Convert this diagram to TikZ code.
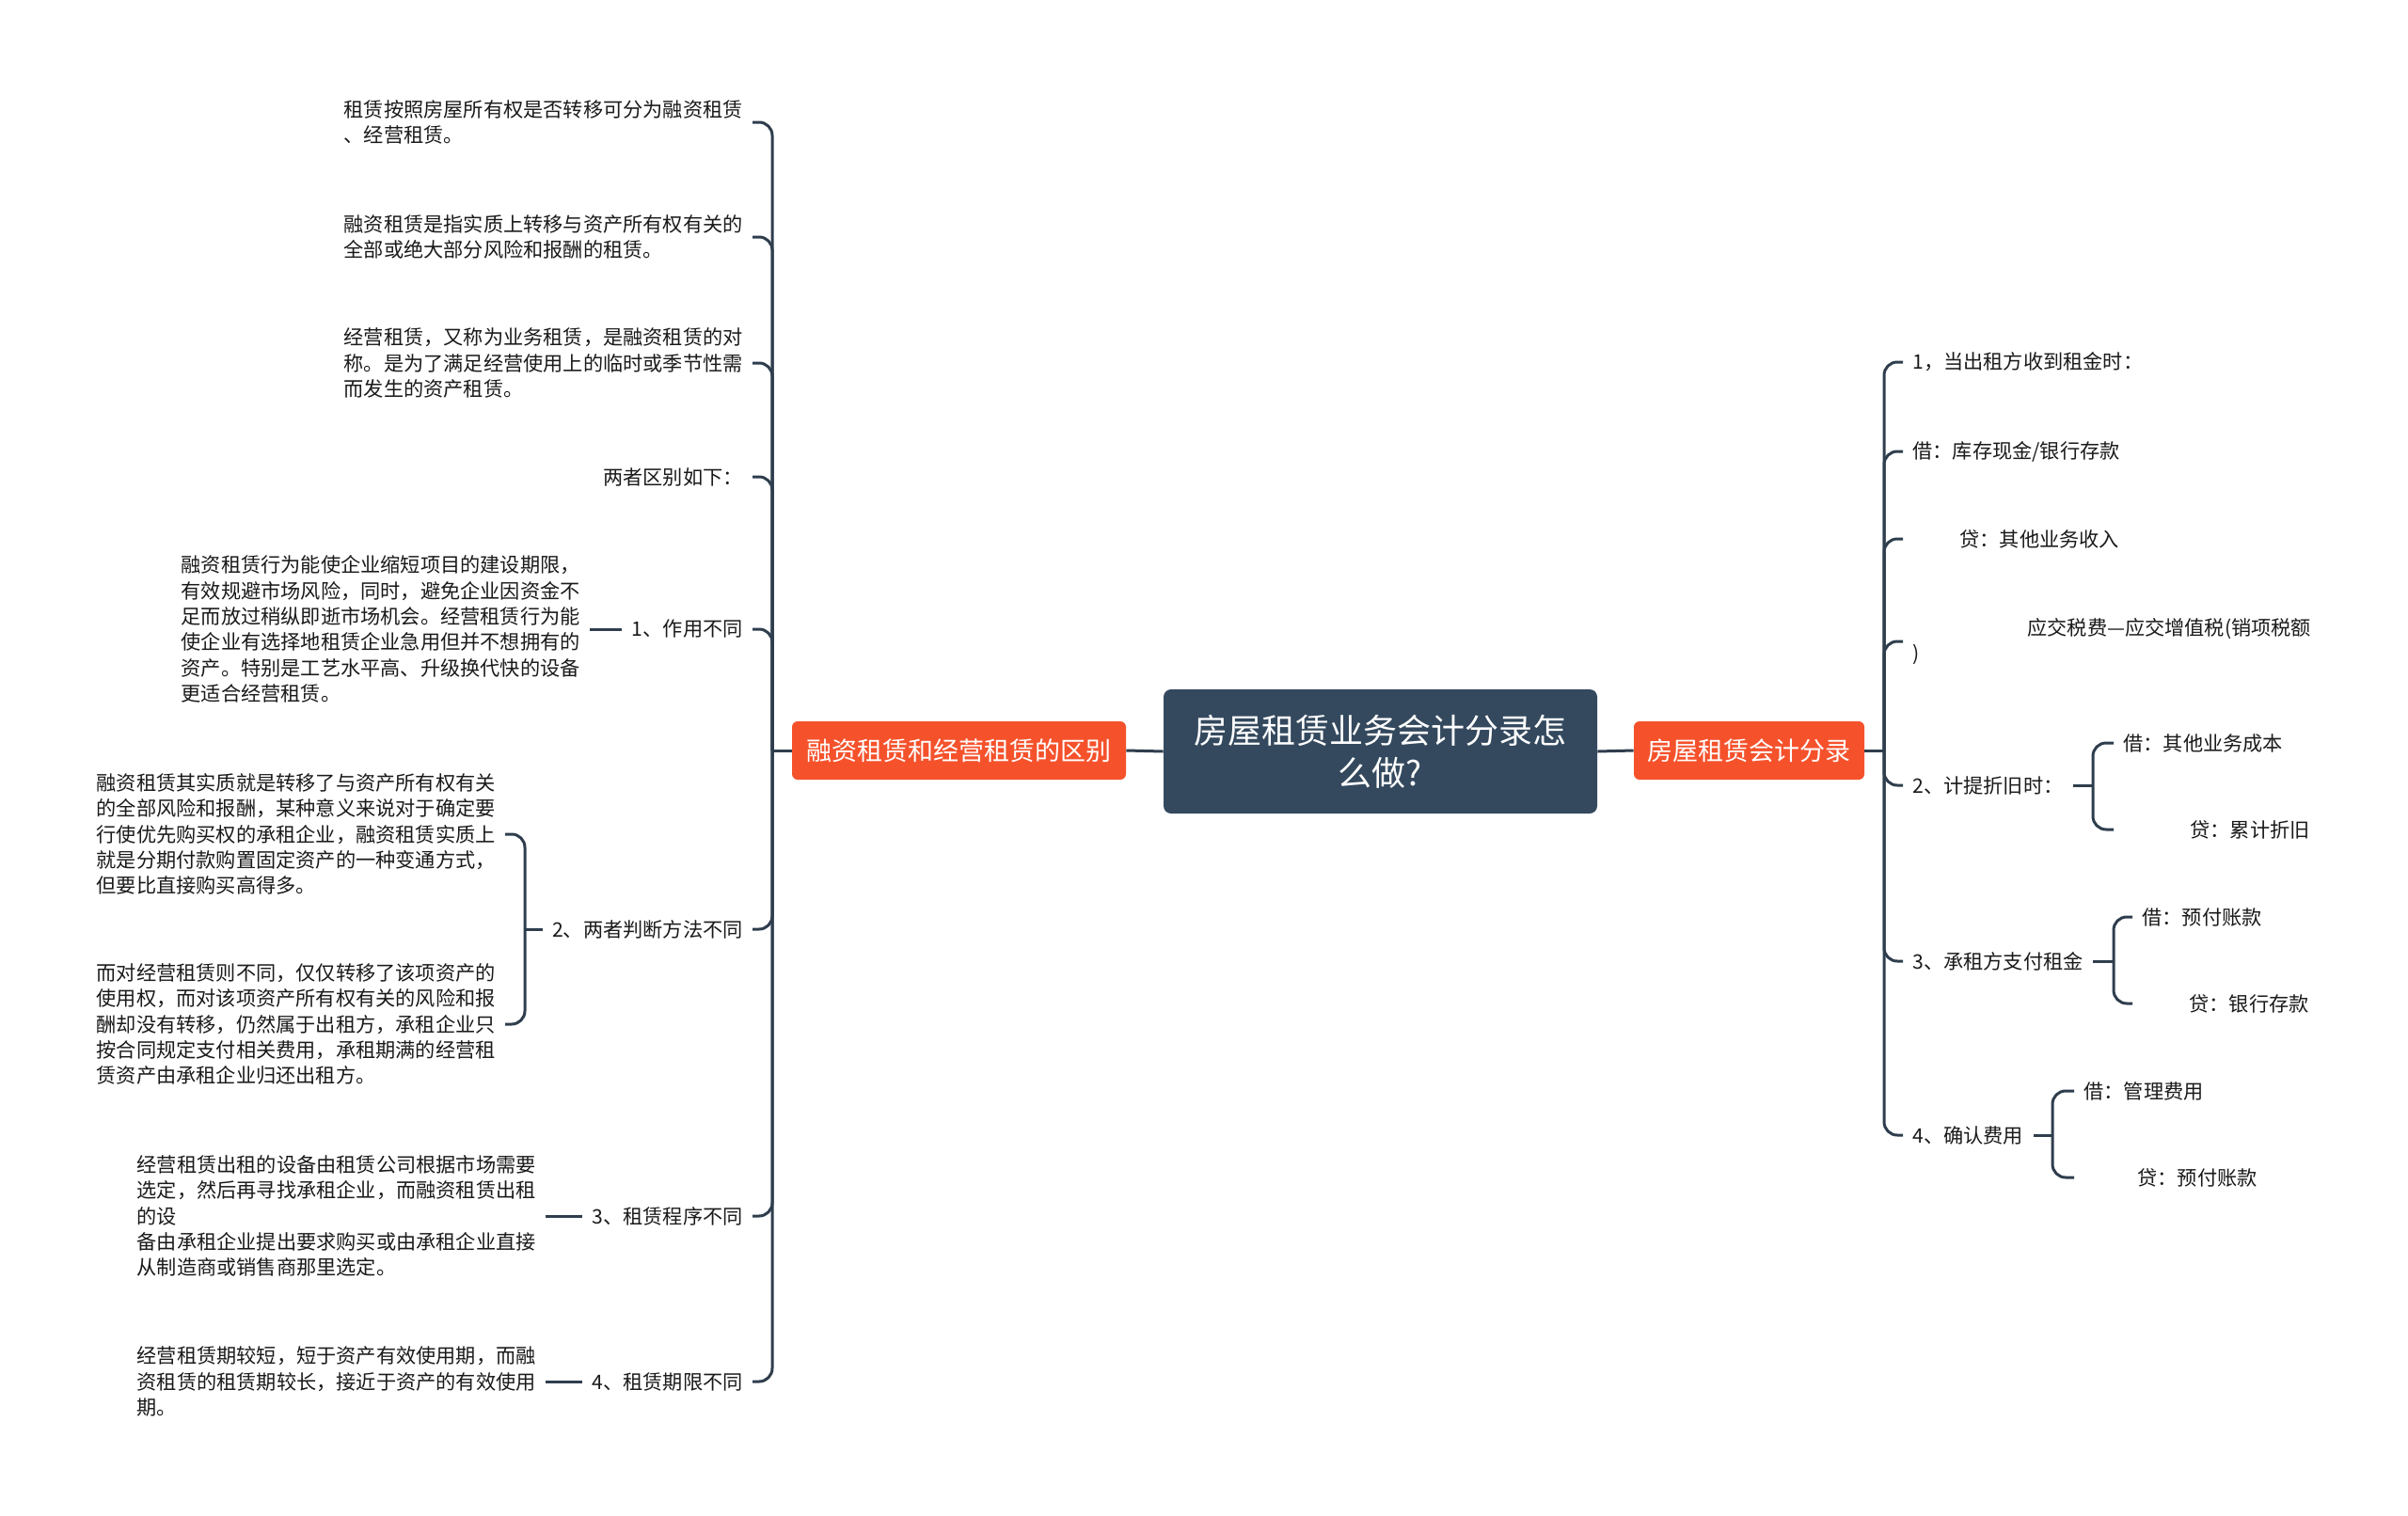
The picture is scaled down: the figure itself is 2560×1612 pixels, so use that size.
\documentclass[tikz,border=0pt]{standalone}
\usepackage{fontspec}
\setmainfont{Noto Sans CJK SC}
\definecolor{slate}{HTML}{34495E}
\definecolor{lnc}{HTML}{2F3E4E}
\definecolor{org}{HTML}{F5522C}
\definecolor{txt}{HTML}{1A1A1A}
\begin{document}
\begin{tikzpicture}[x=0.5pt,y=-0.5pt,
  conn/.style={draw=lnc,line width=1.5pt,rounded corners=7pt},
  leaf/.style={font=\fontsize{10.6pt}{13.7pt}\selectfont,text=txt,align=left,inner xsep=5pt,inner ysep=0pt},
  mainb/.style={fill=org,text=white,rounded corners=3pt,font=\fontsize{13.5pt}{16pt}\selectfont,minimum height=31pt,inner sep=0pt},
]
\fill[white] (0,0) rectangle (2560,1612);
\useasboundingbox (0,0) rectangle (2560,1612);

\node[fill=slate,text=white,rounded corners=4pt,minimum width=230.5pt,minimum height=66pt,inner sep=0pt,align=center,font=\fontsize{18pt}{22.5pt}\selectfont] (root) at (1467.5,799) {房屋租赁业务会计分录怎\\么做?};
\node[mainb,minimum width=177.5pt] (L) at (1019.5,798) {融资租赁和经营租赁的区别};
\node[mainb,minimum width=122.5pt] (R) at (1859.5,798) {房屋租赁会计分录};

\coordinate (ls) at (821,798);
\coordinate (rs) at (2003,798);

% left side
\node[leaf,anchor=east] (t1) at (800,130) {租赁按照房屋所有权是否转移可分为融资租赁\\、经营租赁。};
\node[leaf,anchor=east] (t2) at (800,252) {融资租赁是指实质上转移与资产所有权有关的\\全部或绝大部分风险和报酬的租赁。};
\node[leaf,anchor=east] (t3) at (800,386) {经营租赁，又称为业务租赁，是融资租赁的对\\称。是为了满足经营使用上的临时或季节性需\\而发生的资产租赁。};
\node[leaf,anchor=east] (t4) at (800,507) {两者区别如下：};
\node[leaf,anchor=east] (a1) at (800,669) {1、作用不同};
\node[leaf,anchor=east] (d1) at (627,669) {融资租赁行为能使企业缩短项目的建设期限，\\有效规避市场风险，同时，避免企业因资金不\\足而放过稍纵即逝市场机会。经营租赁行为能\\使企业有选择地租赁企业急用但并不想拥有的\\资产。特别是工艺水平高、升级换代快的设备\\更适合经营租赁。};
\node[leaf,anchor=east] (a2) at (800,988) {2、两者判断方法不同};
\node[leaf,anchor=east] (b1) at (537,887) {融资租赁其实质就是转移了与资产所有权有关\\的全部风险和报酬，某种意义来说对于确定要\\行使优先购买权的承租企业，融资租赁实质上\\就是分期付款购置固定资产的一种变通方式，\\但要比直接购买高得多。};
\node[leaf,anchor=east] (b2) at (537,1089) {而对经营租赁则不同，仅仅转移了该项资产的\\使用权，而对该项资产所有权有关的风险和报\\酬却没有转移，仍然属于出租方，承租企业只\\按合同规定支付相关费用，承租期满的经营租\\赁资产由承租企业归还出租方。};
\node[leaf,anchor=east] (a3) at (800,1293) {3、租赁程序不同};
\node[leaf,anchor=east] (d3) at (580,1293) {经营租赁出租的设备由租赁公司根据市场需要\\选定，然后再寻找承租企业，而融资租赁出租\\的设\\备由承租企业提出要求购买或由承租企业直接\\从制造商或销售商那里选定。};
\node[leaf,anchor=east] (a4) at (800,1469) {4、租赁期限不同};
\node[leaf,anchor=east] (d4) at (580,1469) {经营租赁期较短，短于资产有效使用期，而融\\资租赁的租赁期较长，接近于资产的有效使用\\期。};

% right side
\node[leaf,anchor=west] (r1) at (2023,385) {1，当出租方收到租金时：};
\node[leaf,anchor=west] (r2) at (2023,480) {借：库存现金/银行存款};
\node[leaf,anchor=west] (r3) at (2023,573) {\hspace*{25pt}贷：其他业务收入};
\node[leaf,anchor=west] (r4) at (2023,682) {\hspace*{61pt}应交税费—应交增值税(销项税额\\)};
\node[leaf,anchor=west] (r5) at (2023,835) {2、计提折旧时：};
\node[leaf,anchor=west] (r6) at (2023,1022) {3、承租方支付租金};
\node[leaf,anchor=west] (r7) at (2023,1207) {4、确认费用};
\node[leaf,anchor=west] (c51) at (2247,790) {借：其他业务成本};
\node[leaf,anchor=west] (c52) at (2247,882) {\hspace*{35.5pt}贷：累计折旧};
\node[leaf,anchor=west] (c61) at (2267,975) {借：预付账款};
\node[leaf,anchor=west] (c62) at (2267,1067) {\hspace*{25pt}贷：银行存款};
\node[leaf,anchor=west] (c71) at (2205,1160) {借：管理费用};
\node[leaf,anchor=west] (c72) at (2205,1252) {\hspace*{28.5pt}贷：预付账款};

% connectors
\draw[conn] (root.west) -- (L.east);
\draw[conn] (L.west) -- (ls);
\foreach \n in {t1,t2,t3,t4,a1,a2,a3,a4} \draw[conn] (ls) |- (\n.east);
\draw[conn] (d1.east) -- (a1.west);
\coordinate (lb2) at (558,988);
\draw[conn] (a2.west) -- (lb2);
\draw[conn] (lb2) |- (b1.east);
\draw[conn] (lb2) |- (b2.east);
\draw[conn] (d3.east) -- (a3.west);
\draw[conn] (d4.east) -- (a4.west);

\draw[conn] (root.east) -- (R.west);
\draw[conn] (R.east) -- (rs);
\foreach \n in {r1,r2,r3,r4,r5,r6,r7} \draw[conn] (rs) |- (\n.west);
\coordinate (rb5) at (2225,835);
\draw[conn] (r5.east) -- (rb5);
\draw[conn] (rb5) |- (c51.west);
\draw[conn] (rb5) |- (c52.west);
\coordinate (rb6) at (2247,1022);
\draw[conn] (r6.east) -- (rb6);
\draw[conn] (rb6) |- (c61.west);
\draw[conn] (rb6) |- (c62.west);
\coordinate (rb7) at (2182,1207);
\draw[conn] (r7.east) -- (rb7);
\draw[conn] (rb7) |- (c71.west);
\draw[conn] (rb7) |- (c72.west);
\end{tikzpicture}
\end{document}
